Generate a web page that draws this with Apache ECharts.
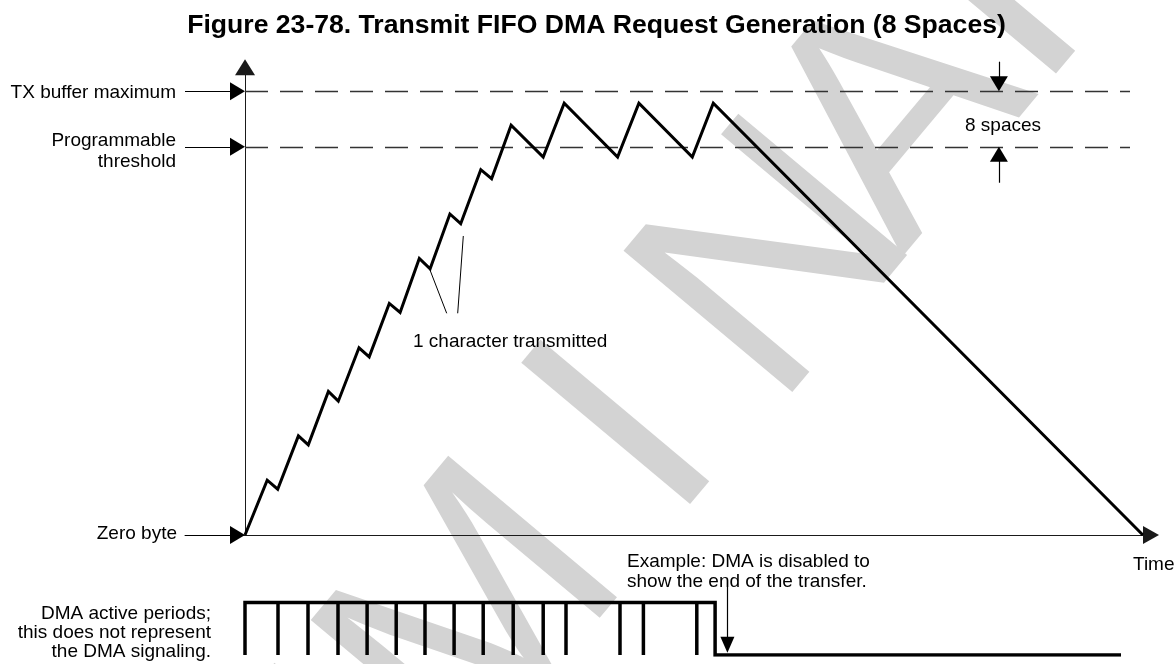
<!DOCTYPE html>
<html>
<head>
<meta charset="utf-8">
<script src="https://cdn.jsdelivr.net/npm/echarts@6/dist/echarts.min.js"></script>
<style>
  html, body { margin: 0; padding: 0; background: #ffffff; }
  #chart { width: 1176px; height: 664px; }
</style>
</head>
<body>
<div id="chart"></div>
<script>
// TX FIFO fill level over time (x: time units, y: bytes held in the FIFO)
const fifoTime  = [0, 7.4, 10.9, 17.8, 21.1, 27.8, 31.1, 38.0, 41.4, 48.1, 51.7, 58.1, 61.7, 68.3, 71.9, 78.6, 82.2, 88.7, 99.4, 106.4, 124.2, 131.3, 149.1, 156.1, 299.3];
const fifoLevel = [0, 7.9, 6.6, 14.3, 13.0, 20.7, 19.3, 27.0, 25.7, 33.4, 32.1, 39.9, 38.4, 46.3, 44.9, 52.7, 51.4, 59.1, 54.5, 62.3, 54.5, 62.3, 54.5, 62.3, 0];

// Reference levels (bytes)
const bufferMax = 64;
const threshold = 56;

// DMA active periods: short inactive pulses, then DMA disabled
const dmaPulses = [11, 21, 31, 40.7, 50.4, 60, 69.7, 79.4, 89.4, 99.4, 107, 125, 132.8, 150.6];
const dmaOff = 156.7;
const dmaEnd = 292;

// Time range of both panels
const timeMin = -20, timeMax = 302;

const FONT = '"Liberation Sans", Arial, Helvetica, sans-serif';

const fifoData = fifoTime.map((t, i) => [t, fifoLevel[i]]);

const dmaData = [[0, 0], [0, 1]];
dmaPulses.forEach(p => dmaData.push([p, 1], [p, 0], [p, 1]));
dmaData.push([dmaOff, 1], [dmaOff, 0], [dmaEnd, 0]);

const solid = (w, c) => ({ type: 'solid', width: w, color: c || '#000' });

// pointer from the label area to the level axis
const pointer = y => [
  { coord: [timeMin, y], symbol: 'none', lineStyle: solid(1.2), itemStyle: { color: '#000' } },
  { coord: [-2.5, y], symbol: 'triangle', symbolSize: [18, 15] }
];
const dashedLevel = y => [
  { coord: [0, y], symbol: 'none', lineStyle: { type: [23, 12], width: 1.3, color: '#333' } },
  { coord: [295, y], symbol: 'none' }
];

const txt = (text, x, y, align, extra) => ({
  type: 'text', x: x, y: y, silent: true, z: 50,
  style: Object.assign({
    text: text, font: '19px ' + FONT, fill: '#000',
    align: align, verticalAlign: 'middle', lineHeight: 20
  }, extra || {})
});

// Page watermark: large rotated letters laid along a diagonal
const wmAngle = 0.8736;
const wmLetters = [
  ['I', 366, 759],
  ['M', 480.6, 622.6],
  ['I', 632, 436],
  ['N', 782, 267],
  ['A', 902.8, 118.7],
  ['R', 1045.7, -51.5]
];
const watermark = wmLetters.map(([ch, x, y]) => ({
  type: 'text', x: x, y: y, rotation: wmAngle, silent: true, z: -10,
  style: {
    text: ch, font: '320px ' + FONT, fill: '#d3d3d3',
    align: 'center', verticalAlign: 'middle'
  }
}));

const chart = echarts.init(document.getElementById('chart'), null, { renderer: 'canvas' });

chart.setOption({
  animation: false,
  backgroundColor: '#ffffff',
  grid: [
    { left: 185, right: 25, top: 49.7, bottom: 129 },
    { left: 185, right: 25, top: 550, bottom: 9 }
  ],
  xAxis: [
    {
      gridIndex: 0, type: 'value', min: timeMin, max: timeMax,
      axisLine: {
        show: true, onZero: true,
        symbol: ['none', 'triangle'], symbolSize: [18, 16],
        lineStyle: { color: '#1a1a1a', width: 1 }
      },
      axisTick: { show: false }, axisLabel: { show: false }, splitLine: { show: false }
    },
    { gridIndex: 1, type: 'value', min: timeMin, max: timeMax, show: false }
  ],
  yAxis: [
    {
      gridIndex: 0, type: 'value', min: 0, max: 70,
      axisLine: { show: false }, axisTick: { show: false },
      axisLabel: { show: false }, splitLine: { show: false }
    },
    { gridIndex: 1, type: 'value', min: 0, max: 2, show: false }
  ],
  graphic: watermark.concat([
    txt('Figure 23-78. Transmit FIFO DMA Request Generation (8 Spaces)', 596.5, 25.5, 'center',
        { font: 'bold 26.6px ' + FONT }),
    txt('TX buffer maximum', 176, 92.5, 'right'),
    txt('Programmable\nthreshold', 176, 151.2, 'right', { lineHeight: 21 }),
    txt('Zero byte', 177, 533.5, 'right'),
    txt('1 character transmitted', 413, 342, 'left'),
    txt('8 spaces', 1003, 126, 'center'),
    txt('Time', 1133, 565, 'left'),
    txt('Example: DMA is disabled to\nshow the end of the transfer.', 627, 572, 'left', { lineHeight: 20 }),
    txt('DMA active periods;\nthis does not represent\nthe DMA signaling.', 211, 632.6, 'right', { lineHeight: 19.2 })
  ]),
  series: [
    {
      type: 'line', name: 'FIFO level', xAxisIndex: 0, yAxisIndex: 0,
      data: fifoData, showSymbol: false, symbol: 'none', silent: true, z: 5,
      emphasis: { disabled: true },
      lineStyle: { color: '#000', width: 3, join: 'miter' },
      markLine: {
        silent: true, animation: false,
        symbol: ['none', 'none'],
        label: { show: false },
        emphasis: { disabled: true },
        data: [
          // level axis with arrow
          [
            { coord: [0, 0], symbol: 'none', lineStyle: solid(1, '#1a1a1a'), itemStyle: { color: '#000' } },
            { coord: [0, 67.46], symbol: 'triangle', symbolSize: [20, 16] }
          ],
          pointer(bufferMax),
          pointer(threshold),
          pointer(0),
          dashedLevel(bufferMax),
          dashedLevel(threshold),
          // "8 spaces" dimension arrows
          [
            { coord: [251.3, 68.27], symbol: 'none', lineStyle: solid(1.2), itemStyle: { color: '#000' } },
            { coord: [251.3, bufferMax + 1.08], symbol: 'triangle', symbolSize: [18, 15] }
          ],
          [
            { coord: [251.3, 50.81], symbol: 'none', lineStyle: solid(1.2), itemStyle: { color: '#000' } },
            { coord: [251.3, threshold - 1.08], symbol: 'triangle', symbolSize: [18, 15] }
          ],
          // "1 character transmitted" callout
          [
            { coord: [61.67, 38.22], symbol: 'none', lineStyle: solid(1) },
            { coord: [67.23, 31.98], symbol: 'none' }
          ],
          [
            { coord: [72.77, 43.13], symbol: 'none', lineStyle: solid(1) },
            { coord: [70.9, 31.98], symbol: 'none' }
          ]
        ]
      }
    },
    {
      type: 'line', name: 'DMA active', xAxisIndex: 1, yAxisIndex: 1,
      data: dmaData, showSymbol: false, symbol: 'none', silent: true, z: 5,
      emphasis: { disabled: true },
      lineStyle: { color: '#000', width: 3.5, join: 'miter' },
      markLine: {
        silent: true, animation: false,
        symbol: ['none', 'none'],
        label: { show: false },
        emphasis: { disabled: true },
        data: [
          [
            { coord: [160.8, 1.3], symbol: 'none', lineStyle: solid(1.2), itemStyle: { color: '#000' } },
            { coord: [160.8, 0.196], symbol: 'triangle', symbolSize: [14, 16] }
          ]
        ]
      }
    }
  ]
});
</script>
</body>
</html>
